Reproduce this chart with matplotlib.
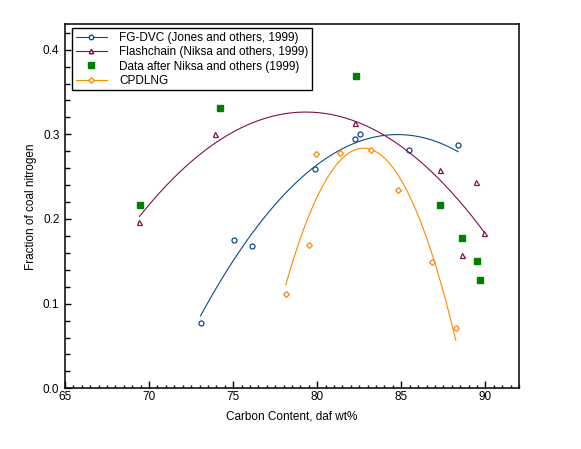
import numpy as np
import matplotlib
matplotlib.use("Agg")
import matplotlib.pyplot as plt
from matplotlib.ticker import MultipleLocator, FormatStrFormatter
from matplotlib.lines import Line2D

# ---- data ----
fgdvc_x = [73.06, 75.05, 76.1, 79.84, 82.24, 82.54, 85.46, 88.38]
fgdvc_y = [0.077, 0.175, 0.168, 0.259, 0.294, 0.301, 0.281, 0.287]

flash_x = [69.43, 73.92, 82.22, 87.31, 88.6, 89.42, 89.93]
flash_y = [0.197, 0.300, 0.313, 0.258, 0.158, 0.244, 0.184]

niksa_x = [69.49, 74.2, 82.3, 87.31, 88.6, 89.49, 89.69]
niksa_y = [0.216, 0.331, 0.369, 0.216, 0.177, 0.150, 0.128]

cpd_x = [78.13, 79.54, 79.92, 81.35, 83.22, 84.83, 86.8, 88.24]
cpd_y = [0.111, 0.169, 0.277, 0.278, 0.281, 0.234, 0.149, 0.071]

labels = ["FG-DVC (Jones and others, 1999)",
          "Flashchain (Niksa and others, 1999)",
          "Data after Niksa and others (1999)",
          "CPDLNG"]

c_blue = "#0b4a8a"
c_purple = "#80104a"
c_green = "#008000"
c_orange = "#ff8800"

plt.rcParams['font.family'] = ['Liberation Sans', 'DejaVu Sans']

fig = plt.figure(figsize=(5.81, 4.49), dpi=100)
ax = fig.add_axes([65/581, 1-388.3/449, (519-65)/581, (388.3-24.3)/449])


def fit_curve(xs, ys, deg=2):
    coef = np.polyfit(xs, ys, deg)
    xx = np.linspace(min(xs), max(xs), 200)
    return xx, np.polyval(coef, xx)


ms = 3.6
lw = 0.8

# FG-DVC
xx, yy = fit_curve(fgdvc_x, fgdvc_y)
ax.plot(xx, yy, color=c_blue, lw=lw)
ax.plot(fgdvc_x, fgdvc_y, 'o', mfc='white', mec=c_blue, mew=0.9, ms=ms, ls='none')
# Flashchain
xx, yy = fit_curve(flash_x, flash_y)
ax.plot(xx, yy, color=c_purple, lw=lw)
ax.plot(flash_x, flash_y, '^', mfc='white', mec=c_purple, mew=0.9, ms=ms, ls='none')
# Data
ax.plot(niksa_x, niksa_y, 's', color=c_green, ms=3.8, ls='none')
# CPDLNG
xx, yy = fit_curve(cpd_x, cpd_y)
ax.plot(xx, yy, color=c_orange, lw=lw)
ax.plot(cpd_x, cpd_y, 'D', mfc='white', mec=c_orange, mew=0.9, ms=3.0, ls='none')

# legend handles
handles = [
    Line2D([], [], color=c_blue, lw=lw, marker='o', mfc='white', mec=c_blue, ms=3.2),
    Line2D([], [], color=c_purple, lw=lw, marker='^', mfc='white', mec=c_purple, ms=3.2),
    Line2D([], [], color=c_green, lw=0, marker='s', ms=3.8),
    Line2D([], [], color=c_orange, lw=lw, marker='D', mfc='white', mec=c_orange, ms=2.8),
]
leg = ax.legend(handles, labels, loc='upper left', bbox_to_anchor=(0.016, 0.989),
                borderaxespad=0, fancybox=False, framealpha=1, edgecolor='black',
                fontsize=8.5, handlelength=2.6, labelspacing=0.2, borderpad=0.3,
                handletextpad=1.1, numpoints=1)
leg.get_frame().set_linewidth(1.0)

ax.set_xlim(65, 92)
ax.set_ylim(0, 0.43)
ax.xaxis.set_major_locator(MultipleLocator(5))
ax.xaxis.set_minor_locator(MultipleLocator(0.5))
ax.yaxis.set_major_locator(MultipleLocator(0.1))
ax.yaxis.set_minor_locator(MultipleLocator(0.02))
ax.yaxis.set_major_formatter(FormatStrFormatter('%.1f'))

ax.tick_params(axis='both', which='both', direction='in', top=False, right=False,
               labelsize=8.5, width=1.0)
ax.tick_params(axis='x', which='both', pad=2)
ax.tick_params(axis='x', which='major', length=5)
ax.tick_params(axis='x', which='minor', length=2.5)
ax.tick_params(axis='y', which='major', length=4, pad=4)
ax.tick_params(axis='y', which='minor', length=3.5)
for s in ax.spines.values():
    s.set_linewidth(1.1)

ax.set_xlabel("Carbon Content, daf wt%", fontsize=8.5, labelpad=5)
ax.set_ylabel("Fraction of coal nitrogen", fontsize=8.5, labelpad=4)

fig.savefig("out.png", dpi=100)
